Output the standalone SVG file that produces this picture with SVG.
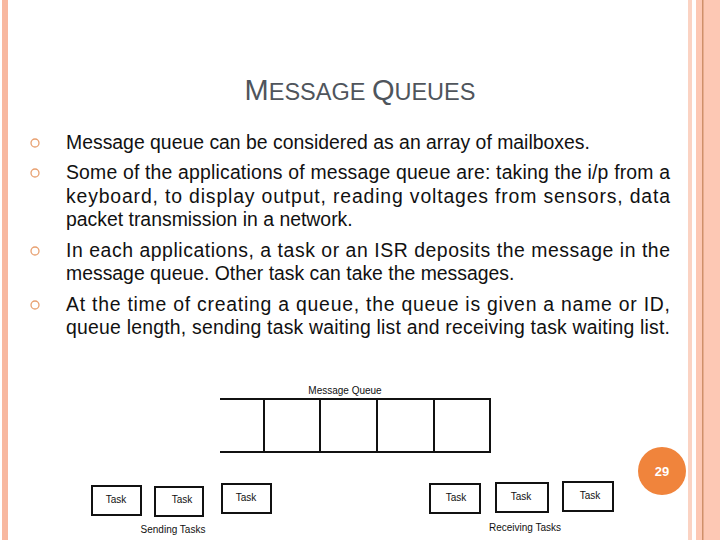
<svg xmlns="http://www.w3.org/2000/svg" width="720" height="540" viewBox="0 0 720 540">
<style>
.t{font-family:"Liberation Sans",Arial,sans-serif;font-size:19.4px;fill:#111}
.b{fill:none;stroke:#e8a070;stroke-width:1.3}
.box{fill:#fff;stroke:#111;stroke-width:2}
.s{font-family:"Liberation Sans",Arial,sans-serif;font-size:10px;fill:#111}
.q{stroke:#111;stroke-width:2;fill:none}
</style>
<rect width="720" height="540" fill="#fff"/>
<rect x="2" y="0" width="6" height="540" fill="#f8b8a0"/>
<rect x="688" y="0" width="4" height="540" fill="#fbd3c3"/>
<rect x="696" y="0" width="24" height="540" fill="#fdc8b4"/>
<rect x="702" y="0" width="1.5" height="540" fill="#d0906a"/>
<text x="360" y="100" text-anchor="middle" font-family="Liberation Sans,Arial,sans-serif" fill="#4f555c" font-size="23.5"><tspan font-size="29">M</tspan>ESSAGE <tspan font-size="29">Q</tspan>UEUES</text>
<g id="bullets">
<circle class="b" cx="35" cy="143" r="4"/><circle class="b" cx="35" cy="173" r="4"/><circle class="b" cx="35" cy="251" r="4"/><circle class="b" cx="35" cy="305" r="4"/>
</g>
<text class="t" x="66" y="149">Message queue can be considered as an array of mailboxes.</text>
<text class="t" x="66" y="179" textLength="604" lengthAdjust="spacing">Some of the applications of message queue are: taking the i/p from a</text>
<text class="t" x="66" y="203" textLength="604" lengthAdjust="spacing">keyboard, to display output, reading voltages from sensors, data</text>
<text class="t" x="66" y="226">packet transmission in a network.</text>
<text class="t" x="66" y="257" textLength="604" lengthAdjust="spacing">In each applications, a task or an ISR deposits the message in the</text>
<text class="t" x="66" y="280">message queue. Other task can take the messages.</text>
<text class="t" x="66" y="311" textLength="604" lengthAdjust="spacing">At the time of creating a queue, the queue is given a name or ID,</text>
<text class="t" x="66" y="334" textLength="604" lengthAdjust="spacing">queue length, sending task waiting list and receiving task waiting list.</text>
<g id="queue">
<text class="s" x="345" y="394" text-anchor="middle">Message Queue</text>
<path class="q" d="M220 399H490V452H220M264 399V452M320 399V452M377 399V452M434 399V452"/>
</g>
<g id="send1"><rect class="box" x="92" y="486" width="49" height="29"/><text class="s" x="116" y="503" text-anchor="middle">Task</text></g>
<g id="send2"><rect class="box" x="155" y="487" width="48" height="29"/><text class="s" x="182" y="503" text-anchor="middle">Task</text></g>
<g id="send3"><rect class="box" x="222" y="484" width="49" height="29"/><text class="s" x="246" y="501" text-anchor="middle">Task</text></g>
<g id="recv1"><rect class="box" x="430" y="484" width="50" height="29"/><text class="s" x="456" y="501" text-anchor="middle">Task</text></g>
<g id="recv2"><rect class="box" x="496" y="483" width="52" height="29"/><text class="s" x="521" y="500" text-anchor="middle">Task</text></g>
<g id="recv3"><rect class="box" x="563" y="482" width="50" height="29"/><text class="s" x="590" y="499" text-anchor="middle">Task</text></g>
<text class="s" x="173" y="533" text-anchor="middle">Sending Tasks</text>
<text class="s" x="525" y="531" text-anchor="middle">Receiving Tasks</text>
<g id="page"><circle cx="662" cy="471" r="24" fill="#f0843c"/><text x="662" y="476" text-anchor="middle" font-family="Liberation Sans,Arial,sans-serif" font-size="13" font-weight="bold" fill="#fff">29</text></g>
</svg>
